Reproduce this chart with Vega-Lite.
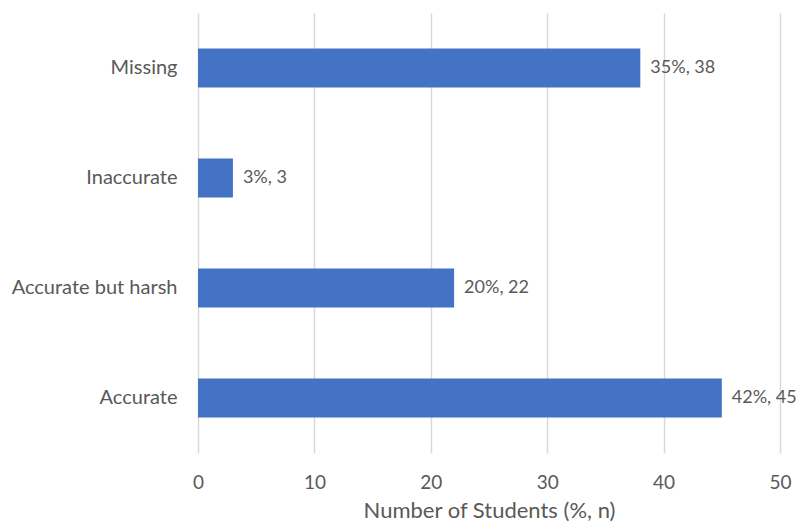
{
  "$schema": "https://vega.github.io/schema/vega-lite/v6.json",
  "width": 582,
  "height": 440,
  "autosize": {"type": "none"},
  "padding": {"left": 198, "top": 13, "right": 19, "bottom": 74},
  "background": "white",
  "config": {
    "view": {"stroke": null},
    "font": "Lato"
  },
  "data": {
    "values": [
      {"category": "Missing", "n": 38, "label": "35%, 38"},
      {"category": "Inaccurate", "n": 3, "label": "3%, 3"},
      {"category": "Accurate but harsh", "n": 22, "label": "20%, 22"},
      {"category": "Accurate", "n": 45, "label": "42%, 45"}
    ]
  },
  "encoding": {
    "y": {
      "field": "category",
      "type": "nominal",
      "sort": null,
      "scale": {"paddingInner": 0.645, "paddingOuter": 0.3225},
      "axis": {
        "title": null,
        "domain": false,
        "ticks": false,
        "labelPadding": 21,
        "labelFont": "Lato",
        "labelFontSize": 20,
        "labelColor": "#595959",
        "labelLimit": 300
      }
    },
    "x": {
      "field": "n",
      "type": "quantitative",
      "scale": {"domain": [0, 50]},
      "axis": {
        "title": "Number of Students (%, n)",
        "values": [0, 10, 20, 30, 40, 50],
        "domain": false,
        "ticks": false,
        "grid": true,
        "gridColor": "#d9d9d9",
        "gridWidth": 1.5,
        "labelFlush": false,
        "labelPadding": 20,
        "labelFont": "Lato",
        "labelFontSize": 19,
        "labelColor": "#595959",
        "titleFont": "Lato",
        "titleFontSize": 22,
        "titleFontWeight": "normal",
        "titleColor": "#595959",
        "titlePadding": 8
      }
    }
  },
  "layer": [
    {"mark": {"type": "bar", "color": "#4472C4"}},
    {
      "mark": {"type": "text", "align": "left", "dx": 10, "fontSize": 18, "color": "#595959", "font": "Lato"},
      "encoding": {"text": {"field": "label"}}
    }
  ]
}
